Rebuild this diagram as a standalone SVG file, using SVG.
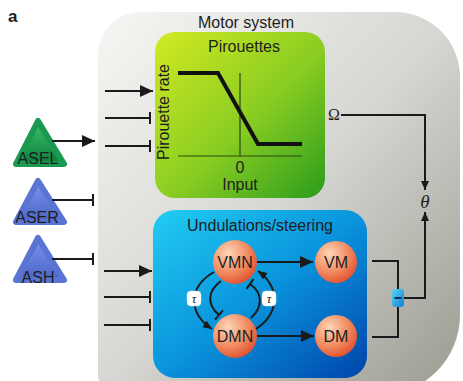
<svg xmlns="http://www.w3.org/2000/svg" width="463" height="381" viewBox="0 0 463 381">
<defs>
<linearGradient id="gGray" x1="0" y1="0" x2="1" y2="1">
<stop offset="0" stop-color="#f6f6f4"/><stop offset="0.5" stop-color="#d6d6d2"/><stop offset="1" stop-color="#9a9a90"/>
</linearGradient>
<linearGradient id="gGreen" x1="0" y1="0" x2="1" y2="1">
<stop offset="0" stop-color="#d2ea22"/><stop offset="0.55" stop-color="#88cc22"/><stop offset="1" stop-color="#2a9c1c"/>
</linearGradient>
<linearGradient id="gBlue" x1="0" y1="0" x2="1" y2="1">
<stop offset="0" stop-color="#22cdf2"/><stop offset="0.5" stop-color="#0a94dc"/><stop offset="1" stop-color="#0044aa"/>
</linearGradient>
<radialGradient id="gOrange" cx="0.35" cy="0.3" r="0.75">
<stop offset="0" stop-color="#fcd6b8"/><stop offset="0.6" stop-color="#f28a60"/><stop offset="1" stop-color="#e2502e"/>
</radialGradient>
<linearGradient id="gTriG" x1="0" y1="0" x2="0" y2="1">
<stop offset="0" stop-color="#3cc46c"/><stop offset="1" stop-color="#0c7c3a"/>
</linearGradient>
<linearGradient id="gTriB" x1="0" y1="0" x2="0" y2="1">
<stop offset="0" stop-color="#7c96ec"/><stop offset="1" stop-color="#4a64c8"/>
</linearGradient>
<linearGradient id="gMinus" x1="0" y1="0" x2="1" y2="1">
<stop offset="0" stop-color="#5ad4f8"/><stop offset="1" stop-color="#1080d0"/>
</linearGradient>
<marker id="arr" markerUnits="userSpaceOnUse" markerWidth="14" markerHeight="14" viewBox="0 0 14 14" refX="13" refY="7" orient="auto">
<path d="M0,1 L13,7 L0,13 Z" fill="#1a1a1a"/>
</marker>
<marker id="arrS" markerUnits="userSpaceOnUse" markerWidth="10" markerHeight="10" viewBox="0 0 10 10" refX="9" refY="5" orient="auto">
<path d="M0,1 L9,5 L0,9 Z" fill="#1a1a1a"/>
</marker>
<marker id="tee" markerUnits="userSpaceOnUse" markerWidth="4" markerHeight="14" viewBox="0 0 4 14" refX="2" refY="7" orient="auto">
<path d="M2,1 V13" stroke="#1a1a1a" stroke-width="2"/>
</marker>
</defs>
<style>
text{font-family:"Liberation Sans",Arial,sans-serif;fill:#1e1e1e}
.t16{font-size:16px}
.c{text-anchor:middle}
.ln{fill:none;stroke:#1a1a1a;stroke-width:2}
.gr{font-family:"Liberation Serif","Times New Roman",serif;font-style:italic}
.tri{stroke-linejoin:round;stroke-width:6}
.tau{fill:#ffffff;stroke:#dddddd;stroke-width:0.5}
</style>

<text x="8" y="22" style="font-size:17px;font-weight:bold">a</text>

<g id="motor-system">
<path d="M98,54 A42,42 0 0 1 140,12 L395,12 A65,65 0 0 1 460,77 L460,315 A80,80 0 0 1 380,395 L118,395 A20,20 0 0 1 98,375 Z" fill="url(#gGray)"/>
<text class="t16 c" x="246" y="28">Motor system</text>
</g>

<g id="pirouettes">
<rect x="155" y="32" width="170" height="166" rx="20" fill="url(#gGreen)"/>
<text class="t16 c" x="244" y="52">Pirouettes</text>
<text class="t16 c" transform="translate(169,112) rotate(-90)">Pirouette rate</text>
<path d="M178,156 H302 M240,73 V156" stroke="#2a4a10" stroke-width="1.2" fill="none"/>
<path d="M178,73 H218 L258,144 H302" stroke="#111" stroke-width="4" fill="none"/>
<text class="t16 c" x="240" y="173">0</text>
<text class="t16 c" x="240" y="190">Input</text>
</g>

<g id="undulations">
<rect x="153" y="210" width="214" height="168" rx="22" fill="url(#gBlue)"/>
<text class="t16 c" x="260" y="231">Undulations/steering</text>
</g>

<g id="VMN"><circle cx="235" cy="262" r="22" fill="url(#gOrange)"/><text class="t16 c" x="235" y="268">VMN</text></g>
<g id="DMN"><circle cx="235" cy="336" r="22" fill="url(#gOrange)"/><text class="t16 c" x="235" y="342">DMN</text></g>
<g id="VM"><circle cx="336" cy="262" r="21" fill="url(#gOrange)"/><text class="t16 c" x="336" y="268">VM</text></g>
<g id="DM"><circle cx="336" cy="336" r="21" fill="url(#gOrange)"/><text class="t16 c" x="336" y="342">DM</text></g>

<g id="ASEL"><path class="tri" d="M38,121 L64,164 L16,164 Z" fill="url(#gTriG)" stroke="#1a9a50"/><text class="t16 c" x="38" y="164">ASEL</text></g>
<g id="ASER"><path class="tri" d="M38,181 L64,222 L16,222 Z" fill="url(#gTriB)" stroke="#5a74d4"/><text class="t16 c" x="37" y="223">ASER</text></g>
<g id="ASH"><path class="tri" d="M38,238 L64,280 L16,280 Z" fill="url(#gTriB)" stroke="#5a74d4"/><text class="t16 c" x="38" y="283">ASH</text></g>

<g id="connectors">
<path class="ln" d="M105,91 H153" marker-end="url(#arr)"/>
<path class="ln" d="M105,118 H150" marker-end="url(#tee)"/>
<path class="ln" d="M105,146 H150" marker-end="url(#tee)"/>
<path class="ln" d="M52,141 H95" marker-end="url(#arr)"/>
<path class="ln" d="M52,200 H93" marker-end="url(#tee)"/>
<path class="ln" d="M52,259 H93" marker-end="url(#tee)"/>
<path class="ln" d="M104,271 H152" marker-end="url(#arr)"/>
<path class="ln" d="M104,297 H150" marker-end="url(#tee)"/>
<path class="ln" d="M104,325 H150" marker-end="url(#tee)"/>
<path class="ln" d="M257,262 H313" marker-end="url(#arr)"/>
<path class="ln" d="M257,336 H314" marker-end="url(#arr)"/>
<path class="ln" d="M214,272 C188,287 188,313 212,329" marker-end="url(#arrS)"/>
<path class="ln" d="M221,281 C207,291 207,305 219,315" marker-end="url(#tee)"/>
<path class="ln" d="M251,318 C263,307 263,293 250,284" marker-end="url(#tee)"/>
<path class="ln" d="M256,329 C280,313 280,287 258,271" marker-end="url(#arrS)"/>
<path class="ln" d="M372,261 H398 V337 H372"/>
<path class="ln" d="M404,298 H425 V212" marker-end="url(#arrS)"/>
<path class="ln" d="M341,115 H425 V190" marker-end="url(#arrS)"/>
<rect class="tau" x="187" y="291" width="14" height="15" rx="4"/>
<text class="gr c" x="194" y="303" style="font-size:13px">τ</text>
<rect class="tau" x="262" y="291" width="14" height="15" rx="4"/>
<text class="gr c" x="269" y="303" style="font-size:13px">τ</text>
<rect x="392" y="289" width="12" height="18" rx="3" fill="url(#gMinus)"/>
<path d="M394.5,298 H401.5" stroke="#0a2a50" stroke-width="2"/>
<text x="334" y="120" class="c" style="font-family:'Liberation Serif','Times New Roman',serif;font-size:16px">Ω</text>
<text x="425" y="208" class="gr c" style="font-size:19px">θ</text>
</g>
</svg>
